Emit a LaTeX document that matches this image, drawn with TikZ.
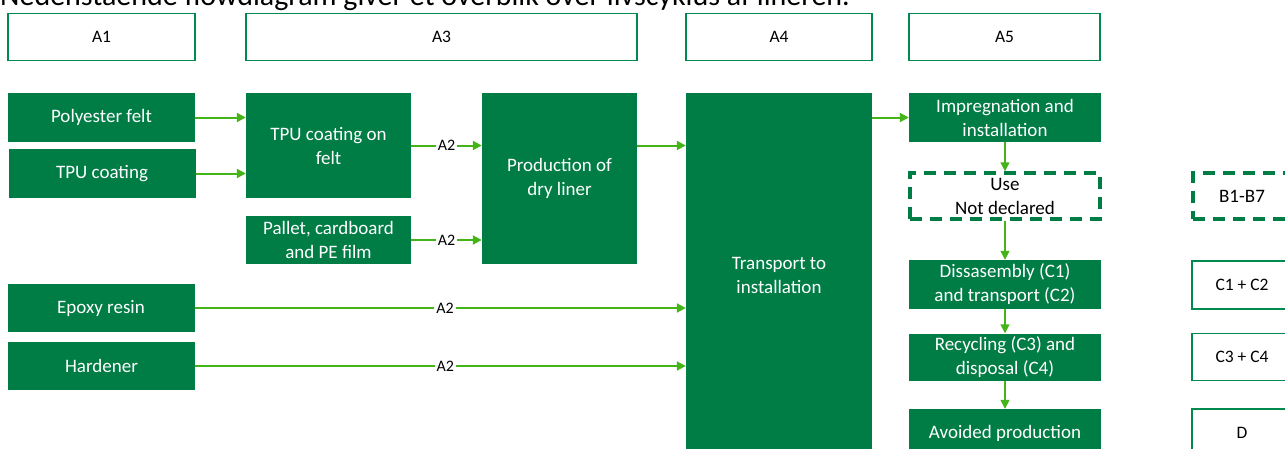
\documentclass[tikz,border=0pt]{standalone}
\usepackage{fontspec}
\setmainfont{Carlito}
\usetikzlibrary{arrows.meta,positioning,calc}
\definecolor{boxgreen}{RGB}{0,124,69}
\definecolor{flowgreen}{RGB}{68,180,24}
\definecolor{rimgreen}{RGB}{0,138,80}

\begin{document}
\begin{tikzpicture}[x=1pt, y=-1pt, >={Triangle[length=9pt,width=9pt]},
    flow/.style={->, draw=flowgreen, line width=2pt},
    proc/.style={rectangle, fill=boxgreen, text=white, align=center, inner sep=0pt, font=\fontsize{19}{24}\selectfont},
    hdr/.style={rectangle, draw=rimgreen, line width=1.5pt, fill=white, minimum height=47pt, inner sep=0pt, font=\fontsize{17.5}{21}\selectfont},
    usebox/.style={rectangle, draw=boxgreen, line width=3.5pt, dash pattern=on 12pt off 8pt, align=center, inner sep=0pt, font=\fontsize{19}{24}\selectfont},
    tag/.style={fill=white, inner sep=2pt, font=\fontsize{16}{18}\selectfont}]
    \useasboundingbox (0,0) rectangle (1285,448);
    \clip (0,0) rectangle (1285,448);

    \node[anchor=base west, inner sep=0pt, font=\fontsize{30}{36}\selectfont] (intro) at (0,5) {Nedenstående flowdiagram giver et overblik over livscyklus af lineren.};

    \node[hdr, minimum width=187pt] (hA1) at (101.5,37) {A1};
    \node[hdr, minimum width=391pt] (hA3) at (441.5,37) {A3};
    \node[hdr, minimum width=186pt] (hA4) at (779,37) {A4};
    \node[hdr, minimum width=191pt] (hA5) at (1004.5,37) {A5};

    \node[proc, minimum width=187pt, minimum height=49pt] (felt) at (101.5,117.5) {Polyester felt};
    \node[proc, minimum width=187pt, minimum height=49pt] (tpu) at (102,173.5) {TPU coating};
    \node[proc, minimum width=165pt, minimum height=105pt] (coat) at (328.5,145.5) {TPU coating on\\felt};
    \node[proc, minimum width=165pt, minimum height=48pt] (pack) at (328.5,240) {Pallet, cardboard\\and PE film};
    \node[proc, minimum width=155pt, minimum height=171pt] (dry) at (559.5,178.5) {Production of\\dry liner};
    \node[proc, minimum width=186pt, minimum height=365pt] (trans) at (779,275.5) {Transport to\\installation};
    \node[proc, minimum width=187pt, minimum height=48pt] (epoxy) at (101,308) {Epoxy resin};
    \node[proc, minimum width=187pt, minimum height=48pt] (hard) at (101.5,366) {Hardener};

    \node[proc, minimum width=192pt, minimum height=49pt] (impr) at (1005,117.5) {Impregnation and\\installation};
    \node[usebox, minimum width=190pt, minimum height=46pt] (use) at (1005,196) {Use\\Not declared};
    \node[proc, minimum width=192pt, minimum height=49pt] (dis) at (1005,284.5) {Dissasembly (C1)\\and transport (C2)};
    \node[proc, minimum width=192pt, minimum height=47pt] (rec) at (1005,357) {Recycling (C3) and\\disposal (C4)};
    \node[proc, minimum width=192pt, minimum height=48pt] (avo) at (1005,433) {Avoided production};

    \node[usebox, minimum width=98pt, minimum height=46pt] (b17) at (1242,196) {B1-B7};
    \node[hdr, minimum width=100pt, minimum height=48pt] (c12) at (1242,285) {C1 + C2};
    \node[hdr, minimum width=100pt, minimum height=47pt] (c34) at (1242,357) {C3 + C4};
    \node[hdr, minimum width=100pt, minimum height=48pt] (dd) at (1242,433) {D};

    \draw[flow] (felt.east) -- (felt.east -| coat.west);
    \draw[flow] (tpu.east) -- (tpu.east -| coat.west);
    \draw[flow] (coat.east) -- node[tag] {A2} (coat.east -| dry.west);
    \draw[flow] (pack.east) -- node[tag] {A2} (pack.east -| dry.west);
    \draw[flow] (coat.east -| dry.east) -- (coat.east -| trans.west);
    \draw[flow] (epoxy.east) -- node[tag, pos=0.51] {A2} (epoxy.east -| trans.west);
    \draw[flow] (hard.east) -- node[tag, pos=0.51] {A2} (hard.east -| trans.west);
    \draw[flow] (impr.west -| trans.east) -- (impr.west);
    \draw[flow, line width=1.5pt] (impr.south) -- (use.north);
    \draw[flow, line width=1.5pt] (use.south) -- (dis.north);
    \draw[flow, line width=1.5pt] (dis.south) -- (rec.north);
    \draw[flow, line width=1.5pt] (rec.south) -- (avo.north);
\end{tikzpicture}
\end{document}
